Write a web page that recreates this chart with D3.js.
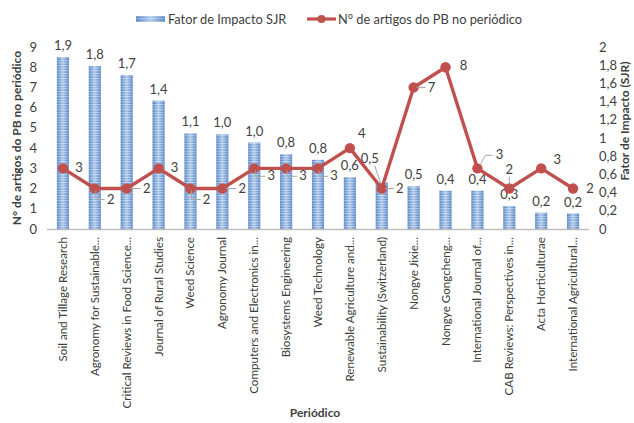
<!DOCTYPE html>
<html><head><meta charset="utf-8">
<script src="https://cdn.jsdelivr.net/npm/d3@7"></script>
<style>body{margin:0;background:#fff}text{font-family:Lato,"Open Sans",sans-serif;fill:#404040}</style>
</head><body><svg id="c" width="634" height="423"></svg>
<script>
const categories = ["Soil and Tillage Research","Agronomy for Sustainable...","Critical Reviews in Food Science...","Journal of Rural Studies","Weed Science","Agronomy Journal","Computers and Electronics in...","Biosystems Engineering","Weed Technology","Renewable Agriculture and...","Sustainability (Switzerland)","Nongye Jixie...","Nongye Gongcheng...","International Journal of...","CAB Reviews: Perspectives in...","Acta Horticulturae","International Agricultural..."];
const sjrValues = [1.89,1.79,1.69,1.41,1.05,1.04,0.95,0.82,0.76,0.57,0.51,0.47,0.42,0.42,0.25,0.18,0.17];
const sjrLabels = ["1,9","1,8","1,7","1,4","1,1","1,0","1,0","0,8","0,8","0,6","0,5","0,5","0,4","0,4","0,3","0,2","0,2"];
const articleCounts = [3,2,2,3,2,2,3,3,3,4,2,7,8,3,2,3,2];
const leftTicks = [0,1,2,3,4,5,6,7,8,9];
const rightTicks = [0,0.2,0.4,0.6,0.8,1,1.2,1.4,1.6,1.8,2];
// label offsets for line data labels [dx, dy, leader]
const lineLabelPos = [[16,4,0],[16,15,1],[20,4,2],[16,4,0],[16,15,1],[20,4,2],[17,12,1],[17,12,1],[16,12,1],[12,-10,0],[18,4,2],[18,5,2],[18,3,0],[22,-9,3],[0,-15,4],[16,-4,0],[17,4,0]];

const svg = d3.select("#c");
const L = 47, R = 589, T = 47, B = 229;
const x = d3.scaleBand().domain(categories).range([L, R]).paddingInner(0.62).paddingOuter(0.31);
const yL = d3.scaleLinear().domain([0,9]).range([B,T]);
const yR = d3.scaleLinear().domain([0,2]).range([B,T]);

const defs = svg.append("defs");
const g = defs.append("linearGradient").attr("id","bg").attr("x1","0").attr("x2","1").attr("y1","0").attr("y2","0");
g.append("stop").attr("offset","0").attr("stop-color","#4a7cc0");
g.append("stop").attr("offset","0.5").attr("stop-color","#a9c6ea");
g.append("stop").attr("offset","1").attr("stop-color","#4a7cc0");
const p = defs.append("pattern").attr("id","st").attr("patternUnits","userSpaceOnUse").attr("width",4).attr("height",2.6);
p.append("rect").attr("width",4).attr("height",1.1).attr("fill","#ffffff").attr("opacity",0.45);

// bars
const bars = svg.append("g");
bars.selectAll("rect.b").data(sjrValues).join("rect").attr("class","b")
  .attr("x",(d,i)=>x(categories[i])).attr("width",x.bandwidth())
  .attr("y",d=>yR(d)).attr("height",d=>B-yR(d)).attr("fill","url(#bg)");
bars.selectAll("rect.s").data(sjrValues).join("rect").attr("class","s")
  .attr("x",(d,i)=>x(categories[i])).attr("width",x.bandwidth())
  .attr("y",d=>yR(d)).attr("height",d=>B-yR(d)).attr("fill","url(#st)");

// baseline
svg.append("line").attr("x1",L).attr("x2",R).attr("y1",B+0.5).attr("y2",B+0.5).attr("stroke","#bfbfbf").attr("stroke-width",1.5);

// bar labels
const cx = i => x(categories[i]) + x.bandwidth()/2;
svg.append("g").selectAll("text").data(sjrLabels).join("text")
  .attr("x",(d,i)=> i===10 ? cx(i)-12 : cx(i))
  .attr("y",(d,i)=> i===10 ? yR(sjrValues[i])-20 : yR(sjrValues[i])-7)
  .attr("text-anchor","middle").attr("font-size",13).text(d=>d);
// leader for label 11
svg.append("path").attr("d",`M${cx(10)-7},${yR(sjrValues[10])-17} L${cx(10)},${yR(sjrValues[10])+4}`).attr("stroke","#a6a6a6").attr("fill","none");

// line
const line = d3.line().x((d,i)=>cx(i)).y(d=>yL(d));
svg.append("path").datum(articleCounts).attr("d",line).attr("fill","none").attr("stroke","#c0504d").attr("stroke-width",3.4).attr("stroke-linejoin","round");
svg.append("g").selectAll("circle").data(articleCounts).join("circle")
  .attr("cx",(d,i)=>cx(i)).attr("cy",d=>yL(d)).attr("r",5.2).attr("fill","#c0504d");

// line labels and leaders
const lg = svg.append("g");
articleCounts.forEach((d,i)=>{
  const px = cx(i), py = yL(d); const [dx,dy,k] = lineLabelPos[i];
  lg.append("text").attr("x",px+dx).attr("y",py+dy).attr("text-anchor","middle").attr("font-size",13).text(d);
  let path = null;
  if(k===1) path = `M${px+1},${py+2} L${px+1},${py+dy-4} L${px+dx-6},${py+dy-4}`;
  if(k===2) path = `M${px+3},${py} L${px+dx-6},${py}`;
  if(k===3) path = `M${px+3},${py-4} L${px+dx-14},${py+dy-4} L${px+dx-7},${py+dy-4}`;
  if(k===4) path = `M${px},${py-4} L${px},${py+dy+3}`;
  if(path) lg.append("path").attr("d",path).attr("stroke","#a6a6a6").attr("fill","none");
});

// axes ticks
svg.append("g").selectAll("text").data(leftTicks).join("text")
  .attr("x",37).attr("y",d=>yL(d)+4.5).attr("text-anchor","end").attr("font-size",13).text(d=>d);
svg.append("g").selectAll("text").data(rightTicks).join("text")
  .attr("x",599).attr("y",d=>yR(d)+4.5).attr("text-anchor","start").attr("font-size",13)
  .text(d=>String(+d.toFixed(1)).replace(".",","));

// category labels
svg.append("g").selectAll("text").data(categories).join("text")
  .attr("transform",(d,i)=>`translate(${cx(i)+4},237) rotate(-90)`)
  .attr("text-anchor","end").attr("font-size",11.6).text(d=>d);

// axis titles
svg.append("text").attr("transform","translate(21,138) rotate(-90)").attr("text-anchor","middle").attr("font-size",12).attr("font-weight","bold").text("N° de artigos do PB no periódico");
svg.append("text").attr("transform","translate(629,121) rotate(-90)").attr("text-anchor","middle").attr("font-size",12).attr("font-weight","bold").text("Fator de Impacto (SJR)");
svg.append("text").attr("x",315).attr("y",417).attr("text-anchor","middle").attr("font-size",12).attr("font-weight","bold").text("Periódico");

// legend
const leg = svg.append("g");
leg.append("rect").attr("x",136).attr("y",16).attr("width",29).attr("height",6).attr("fill","url(#bg)");
leg.append("rect").attr("x",136).attr("y",16).attr("width",29).attr("height",6).attr("fill","url(#st)");
leg.append("text").attr("x",168).attr("y",23.5).attr("font-size",12.8).text("Fator de Impacto SJR");
leg.append("line").attr("x1",307).attr("x2",336).attr("y1",19).attr("y2",19).attr("stroke","#c0504d").attr("stroke-width",3.2);
leg.append("circle").attr("cx",321.5).attr("cy",19).attr("r",4).attr("fill","#c0504d");
leg.append("text").attr("x",338).attr("y",23.5).attr("font-size",12.8).text("N° de artigos do PB no periódico");
</script></body></html>
